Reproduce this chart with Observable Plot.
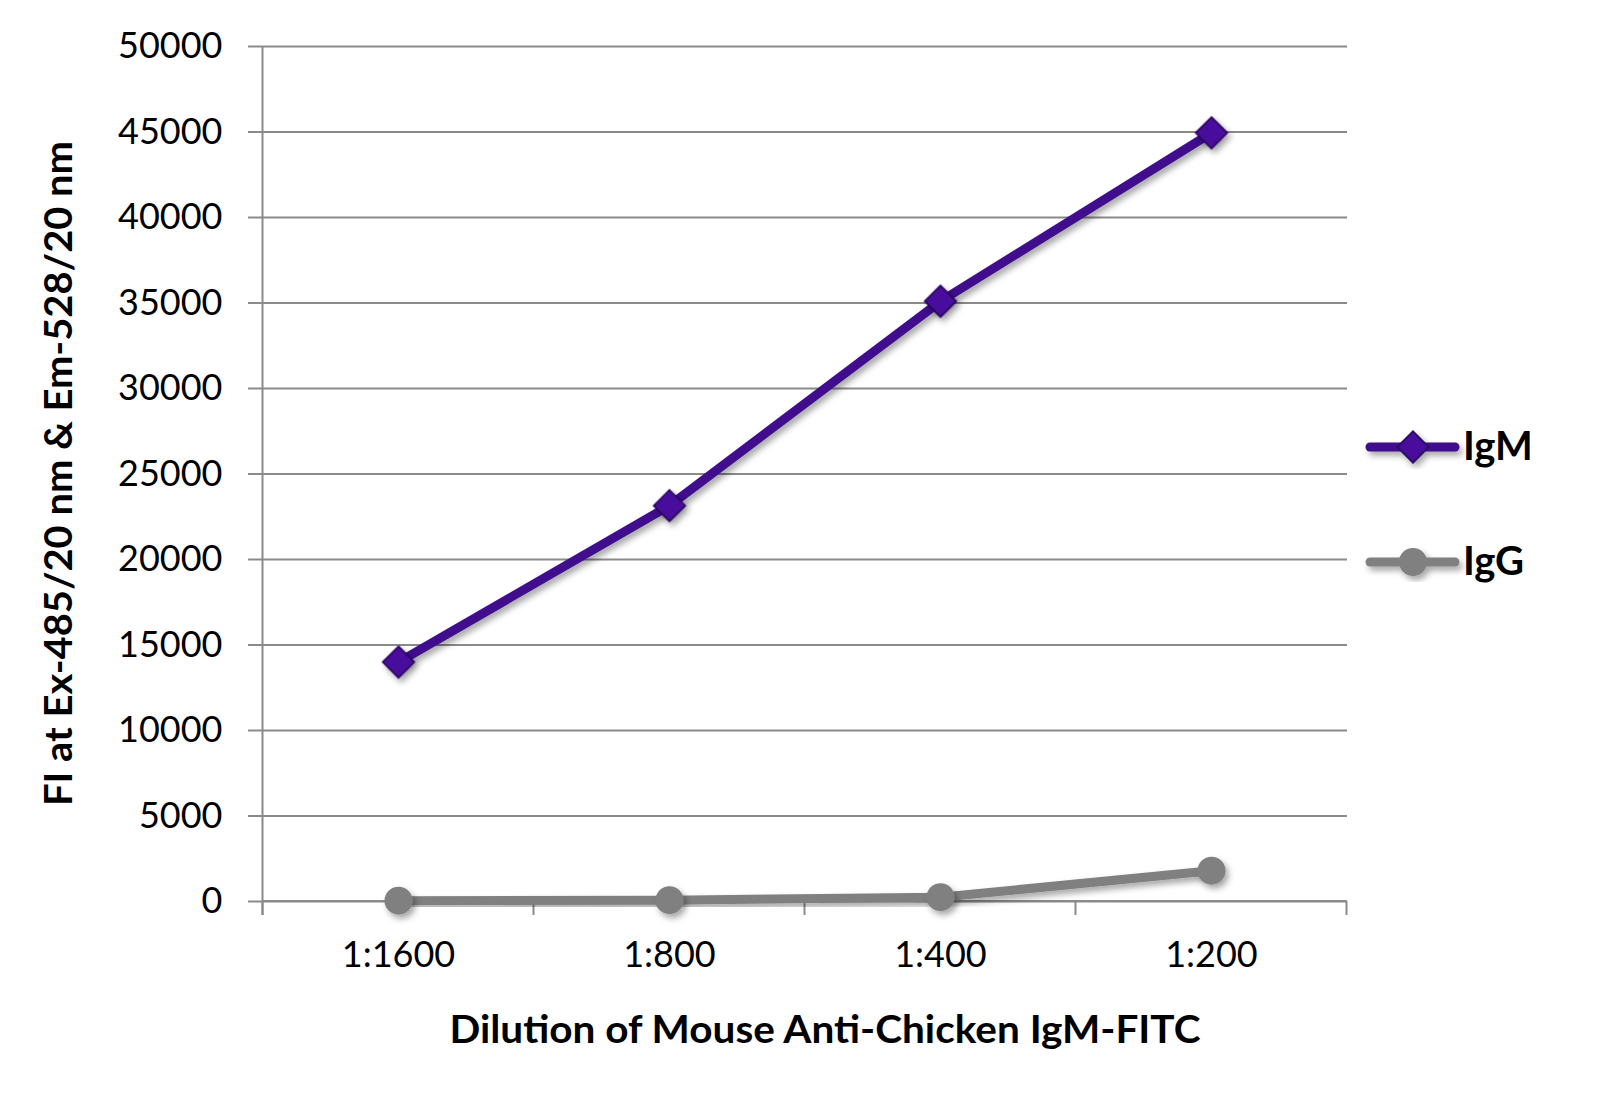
<!DOCTYPE html>
<html>
<head>
<meta charset="utf-8">
<script src="https://cdn.jsdelivr.net/npm/d3@7"></script>
<script src="https://cdn.jsdelivr.net/npm/@observablehq/plot@0.6"></script>
<style>
  html, body { margin: 0; padding: 0; background: #fff; }
  #chart { width: 1614px; height: 1094px; }
</style>
</head>
<body>
<div id="chart"></div>
<script>
// ---- data ----
const categories = ["1:1600", "1:800", "1:400", "1:200"];
const igmValues = [14000, 23150, 35100, 44950];
const iggValues = [50, 80, 250, 1800];
const seriesNames = ["IgM", "IgG"];
const yTicks = [0, 5000, 10000, 15000, 20000, 25000, 30000, 35000, 40000, 45000, 50000];
const xTitle = "Dilution of Mouse Anti-Chicken IgM-FITC";
const yTitle = "FI at Ex-485/20 nm & Em-528/20 nm";

// ---- styles ----
const purpleLine = "#400c8c";
const purpleFill = "#4a0a9e";
const purpleEdge = "#2c0766";
const grayColor = "#808080";
const gridColor = "#8a8a8a";
const font = "Lato, 'Open Sans', sans-serif";

const igm = categories.map((c, i) => ({cat: c, value: igmValues[i]}));
const igg = categories.map((c, i) => ({cat: c, value: iggValues[i]}));

const plot = Plot.plot({
  width: 1614,
  height: 1094,
  marginLeft: 262,
  marginRight: 267,
  marginTop: 46,
  marginBottom: 193,
  style: {fontFamily: font, fontSize: "36px", color: "black", background: "white", overflow: "visible"},
  x: {type: "point", domain: categories, padding: 0.5, label: null},
  y: {domain: [0, 50000], label: null},
  marks: [
    Plot.gridY(yTicks, {stroke: gridColor, strokeOpacity: 1, strokeWidth: 2}),
    Plot.axisY(yTicks, {tickSize: 14, tickPadding: 26, stroke: gridColor, strokeWidth: 2, fill: "black",
      tickFormat: d => String(d), fontSize: 36, label: null}),
    Plot.axisX({tickSize: 0, tickPadding: 40, fill: "black", fontSize: 36, label: null}),
    Plot.line(igg, {x: "cat", y: "value", stroke: grayColor, strokeWidth: 9}),
    Plot.dot(igg, {x: "cat", y: "value", r: 14, fill: grayColor, stroke: "none"}),
    Plot.line(igm, {x: "cat", y: "value", stroke: purpleLine, strokeWidth: 9}),
    Plot.dot(igm, {x: "cat", y: "value", symbol: "diamond2", r: 14, fill: purpleFill, stroke: purpleEdge, strokeWidth: 2})
  ]
});
document.getElementById("chart").appendChild(plot);

// ---- post-render decorations using the plot's scales ----
const svg = d3.select(plot);
const xs = plot.scale("x");
const ys = plot.scale("y");
const xPos = categories.map(c => xs.apply(c));
const half = (xPos[1] - xPos[0]) / 2;
const bounds = [xPos[0] - half, ...xPos.map(p => p + half)];
const y0 = ys.apply(0), yTop = ys.apply(50000);

// shadow filter
const defs = svg.insert("defs", ":first-child");
const f = defs.append("filter").attr("id", "shadow").attr("x", "-20%").attr("y", "-20%").attr("width", "140%").attr("height", "140%");
f.append("feDropShadow").attr("dx", 3).attr("dy", 4).attr("stdDeviation", 3)
  .attr("flood-color", "#000").attr("flood-opacity", 0.35);
svg.selectAll('g[aria-label="line"], g[aria-label="dot"]').attr("filter", "url(#shadow)");

// y axis line and x ticks at category boundaries
const axisG = svg.insert("g", 'g[aria-label="line"]');
axisG.append("line").attr("x1", bounds[0]).attr("x2", bounds[0]).attr("y1", yTop).attr("y2", y0 + 14)
  .attr("stroke", gridColor).attr("stroke-width", 2);
axisG.append("line").attr("x1", bounds[0]).attr("x2", bounds[bounds.length - 1]).attr("y1", y0).attr("y2", y0)
  .attr("stroke", gridColor).attr("stroke-width", 2);
bounds.forEach(b => axisG.append("line").attr("x1", b).attr("x2", b).attr("y1", y0).attr("y2", y0 + 14)
  .attr("stroke", gridColor).attr("stroke-width", 2));

// titles
svg.append("text").text(xTitle)
  .attr("x", 825).attr("y", 1043).attr("text-anchor", "middle")
  .attr("font-family", font).attr("font-weight", "bold").attr("font-size", 39)
  .attr("textLength", 751).attr("lengthAdjust", "spacingAndGlyphs").attr("fill", "black");
svg.append("text").text(yTitle)
  .attr("transform", `translate(72,${(y0 + yTop) / 2}) rotate(-90)`).attr("text-anchor", "middle")
  .attr("font-family", font).attr("font-weight", "bold").attr("font-size", 38)
  .attr("textLength", 665).attr("lengthAdjust", "spacingAndGlyphs").attr("fill", "black");

// legend
const legend = svg.append("g");
const legendItems = [
  {name: seriesNames[0], y: 447, color: purpleLine, symbol: "diamond"},
  {name: seriesNames[1], y: 562, color: grayColor, symbol: "circle"}
];
legendItems.forEach(item => {
  const g = legend.append("g").attr("filter", "url(#shadow)");
  g.append("line").attr("x1", 1370).attr("x2", 1455).attr("y1", item.y).attr("y2", item.y)
    .attr("stroke", item.color).attr("stroke-width", 9).attr("stroke-linecap", "round");
  if (item.symbol === "diamond") {
    g.append("path").attr("d", d3.symbol(d3.symbolDiamond2, Math.PI * 14 * 14)())
      .attr("transform", `translate(1413,${item.y})`)
      .attr("fill", purpleFill).attr("stroke", purpleEdge).attr("stroke-width", 2);
  } else {
    g.append("circle").attr("cx", 1413).attr("cy", item.y).attr("r", 14).attr("fill", grayColor);
  }
  legend.append("text").text(item.name).attr("x", 1463).attr("y", item.y + 13)
    .attr("text-anchor", "start")
    .attr("font-family", font).attr("font-weight", "bold").attr("font-size", 40).attr("fill", "black");
});
</script>
</body>
</html>
